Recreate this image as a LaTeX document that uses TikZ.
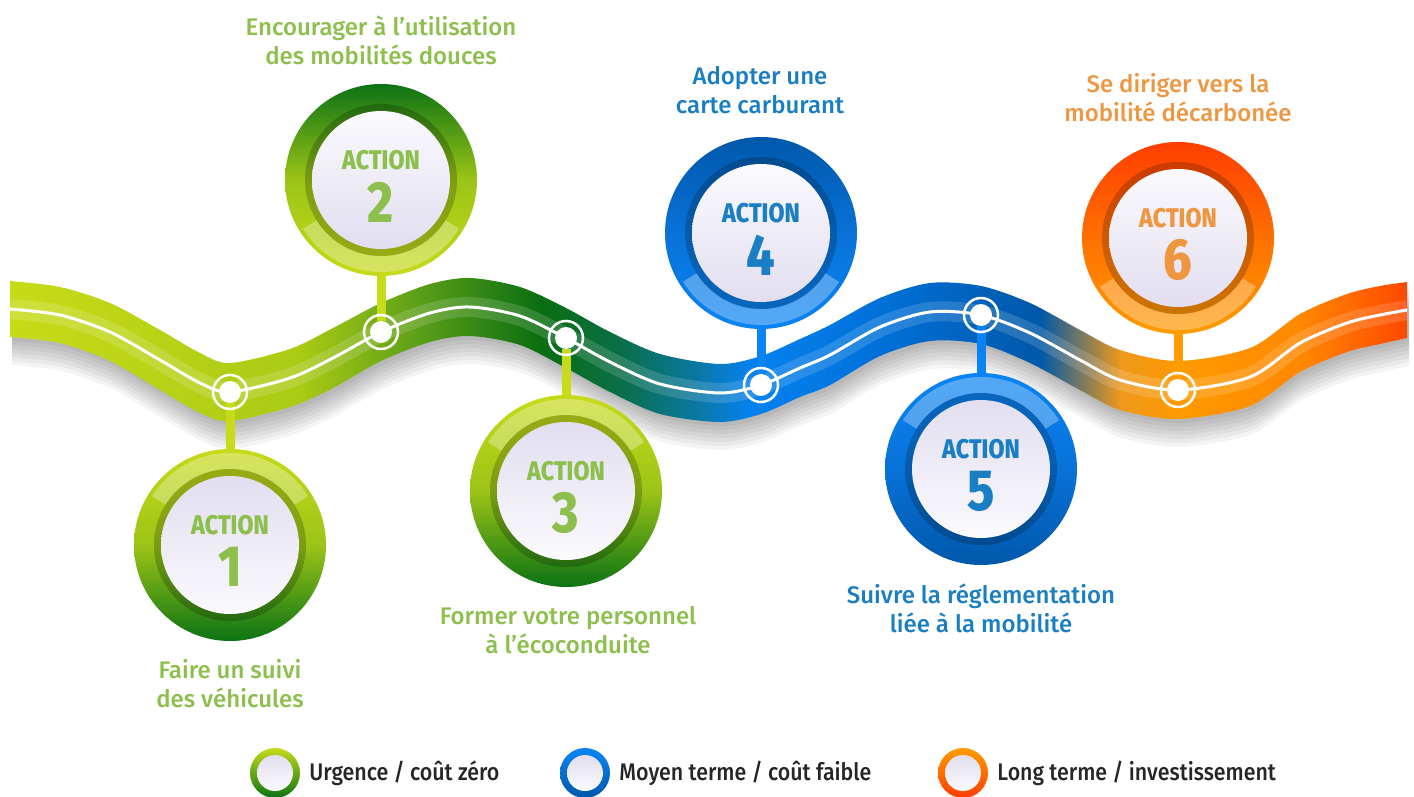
\documentclass[tikz,border=0pt]{standalone}
\usepackage{fontspec}
\setmainfont{Fira Sans}
\newfontfamily\labelfont{Fira Sans Medium}
\newfontfamily\legendfont{Fira Sans Medium}[FakeStretch=0.89]
\newfontfamily\actionfont{Fira Sans ExtraBold}[FakeStretch=0.86]
\usetikzlibrary{positioning}

\definecolor{gLight}{HTML}{C6DB1A}
\definecolor{gMid}{HTML}{9CC416}
\definecolor{gDark}{HTML}{0B7314}
\definecolor{gText}{HTML}{8DBF4D}
\definecolor{bLight}{HTML}{0A84F4}
\definecolor{bMid}{HTML}{0872D8}
\definecolor{bDark}{HTML}{0058AA}
\definecolor{bText}{HTML}{1A7EC4}
\definecolor{oLight}{HTML}{FF9C00}
\definecolor{oMid}{HTML}{FF7000}
\definecolor{oDark}{HTML}{FF3E00}
\definecolor{oText}{HTML}{EE9640}
\definecolor{lav}{HTML}{E2DEF0}
\definecolor{lavwhite}{HTML}{FBFAFD}
% colours along the wave
\definecolor{wA}{HTML}{C8DC18}
\definecolor{wB}{HTML}{AACA14}
\definecolor{wC}{HTML}{5A9E18}
\definecolor{wD}{HTML}{0A6E10}
\definecolor{wE}{HTML}{0A6E48}
\definecolor{wF}{HTML}{0A78A8}
\definecolor{wG}{HTML}{0582F0}
\definecolor{wH}{HTML}{0070D8}
\definecolor{wI}{HTML}{0058A8}
\definecolor{wJ}{HTML}{EE981C}
\definecolor{wK}{HTML}{FF9A00}
\definecolor{wL}{HTML}{FF8800}
\definecolor{wM}{HTML}{FF4400}

\tikzset{
  stemline/.style={line width=4.5pt},
  junction/.style={circle, fill=white, minimum size=11pt, inner sep=0pt},
  medal/.style={circle, minimum size=96pt, inner sep=0pt},
  actiontext/.style={font=\actionfont\fontsize{13.5}{13.5}\selectfont},
  numtext/.style={font=\actionfont\fontsize{29}{29}\selectfont},
  caption/.style={align=center, font=\labelfont\fontsize{12}{14.5}\selectfont},
  legendring/.style={circle, minimum size=25pt, inner sep=0pt},
  legendtext/.style={font=\legendfont\fontsize{12}{14}\selectfont, text=black!85},
  green down/.style={top color=gLight, bottom color=gDark, middle color=gMid},
  green up/.style={top color=gDark, bottom color=gLight, middle color=gMid},
  blue down/.style={top color=bLight, bottom color=bDark, middle color=bMid},
  blue up/.style={top color=bDark, bottom color=bLight, middle color=bMid},
  orange up/.style={top color=oDark, bottom color=oLight, middle color=oMid},
}

% #1 name, #2 centre, #3 number, #4 ring style, #5 side of highlight (270 top, 90 bottom), #6 text colour
\newcommand{\actionmedal}[6]{%
  \shade[#4] (#2) circle (96);
  \fill[white, opacity=.3] ([shift={(#5-58:92)}]#2) arc[start angle=#5-58, end angle=#5+58, radius=92]
    -- ([shift={(#5+58:76)}]#2) arc[start angle=#5+58, end angle=#5-58, radius=76] -- cycle;
  \fill[black, opacity=.2] (#2) circle (76);
  \ifnum#5=270
    \shade[top color=lav, bottom color=lavwhite] (#2) circle (69);
  \else
    \shade[top color=lavwhite, bottom color=lav] (#2) circle (69);
  \fi
  \node[medal] (#1) at (#2) {};
  \node[actiontext, text=#6] at ([yshift=10pt]#1.center) {ACTION};
  \node[numtext, text=#6] at ([yshift=-11pt]#1.center) {#3};
}

\begin{document}
\begin{tikzpicture}[x=0.5pt, y=-0.5pt]
  \fill[white] (0,0) rectangle (1414,797);
  \useasboundingbox (0,0) rectangle (1414,797);

  % the wave
  \path[save path=\band]
    plot[smooth] coordinates {(10,281) (60,287) (110,303) (160,330) (200,353) (230,363) (290,349)
      (333,328) (381,303) (430,284) (470,278) (520,287) (566,308) (610,332) (660,354) (720,364)
      (761,356) (800,339) (830,325) (880,298) (930,283) (981,286) (1030,303) (1080,330) (1120,350)
      (1178,361) (1250,348) (1300,314) (1347,294) (1380,286) (1407,282)}
    -- plot[smooth] coordinates {(1407,338) (1380,344) (1347,352) (1300,372) (1250,406) (1178,419)
      (1120,410) (1080,390) (1030,363) (981,344) (930,341) (880,356) (830,385) (800,397) (761,414)
      (720,422) (660,414) (610,392) (566,368) (520,345) (470,336) (430,342) (381,361) (333,388)
      (290,407) (230,421) (200,413) (160,390) (110,361) (60,343) (10,337)}
    -- cycle;
  \path[save path=\track]
    plot[smooth] coordinates {(10,309) (60,315) (110,332) (160,360) (200,383) (230,392) (290,378)
      (333,358) (381,332) (430,313) (470,307) (520,316) (566,338) (610,362) (660,384) (720,393)
      (761,385) (800,368) (830,355) (880,327) (930,312) (981,315) (1030,333) (1080,360) (1120,380)
      (1178,390) (1250,377) (1300,343) (1347,323) (1380,315) (1407,310)};

  \foreach \s in {2,4,...,14}{
    \begin{scope}[transform canvas={yshift=-\s pt, xshift=1pt}]
      \fill[black, opacity=.045, use path=\band];
    \end{scope}
  }
  \begin{scope}
    \clip[use path=\band];
    \foreach \xa/\xb/\ca/\cb in {0/301/wA/wB, 300/421/wB/wC, 420/541/wC/wD, 540/621/wD/wE,
        620/701/wE/wF, 700/751/wF/wG, 750/881/wG/wH, 880/1041/wH/wI, 1040/1121/wI/wJ,
        1120/1181/wJ/wK, 1180/1301/wK/wL, 1300/1414/wL/wM}
      \shade[left color=\ca, right color=\cb] (\xa,270) rectangle (\xb,440);
    \draw[white, opacity=.15, line width=10pt, use path=\track];
  \end{scope}
  \draw[white, line width=1.5pt, use path=\track];

  % stops on the wave
  \node[junction] (j1) at (230,392) {};
  \node[junction] (j2) at (381,332) {};
  \node[junction] (j3) at (566,338) {};
  \node[junction] (j4) at (761,385) {};
  \node[junction] (j5) at (981,315) {};
  \node[junction] (j6) at (1178,390) {};

  % actions
  \actionmedal{a1}{230,545}{1}{green down}{270}{gText}
  \actionmedal{a2}{381,180}{2}{green up}{90}{gText}
  \actionmedal{a3}{566,491}{3}{green down}{270}{gText}
  \actionmedal{a4}{761,233}{4}{blue up}{90}{bText}
  \actionmedal{a5}{981,469}{5}{blue down}{270}{bText}
  \actionmedal{a6}{1178,238}{6}{orange up}{90}{oText}

  \draw[stemline, gLight] (j1) -- (a1);
  \draw[stemline, gLight] (j2) -- (a2);
  \draw[stemline, gLight] (j3) -- (a3);
  \draw[stemline, bLight] (j4) -- (a4);
  \draw[stemline, bLight] (j5) -- (a5);
  \draw[stemline, oLight] (j6) -- (a6);
  \foreach \j in {j1,j2,j3,j4,j5,j6}
    \draw[white, line width=1.25pt] (\j) circle (17);

  % texts
  \node[caption, text=gText] (t1) at (230,684) {Faire un suivi\\des véhicules};
  \node[caption, text=gText] (t2) at (381,40) {Encourager à l’utilisation\\des mobilités douces};
  \node[caption, text=gText] (t3) at (568,630) {Former votre personnel\\à l’écoconduite};
  \node[caption, text=bText] (t4) at (760,90) {Adopter une\\carte carburant};
  \node[caption, text=bText] (t5) at (981,608) {Suivre la réglementation\\liée à la mobilité};
  \node[caption, text=oText] (t6) at (1178,98) {Se diriger vers la\\mobilité décarbonée};

  % legend
  \node[legendring, top color=gLight, bottom color=gDark] (k1) at (275,773) {};
  \node[legendring, top color=bLight, bottom color=bDark] (k2) at (585,773) {};
  \node[legendring, top color=oLight, bottom color=oDark] (k3) at (963,773) {};
  \foreach \k in {k1,k2,k3}
    \shade[top color=lav, bottom color=lavwhite] (\k) circle (18);
  \node[legendtext, right=1pt of k1] (l1) {Urgence / coût zéro};
  \node[legendtext, right=1pt of k2] (l2) {Moyen terme / coût faible};
  \node[legendtext, right=1pt of k3] (l3) {Long terme / investissement};
\end{tikzpicture}
\end{document}
